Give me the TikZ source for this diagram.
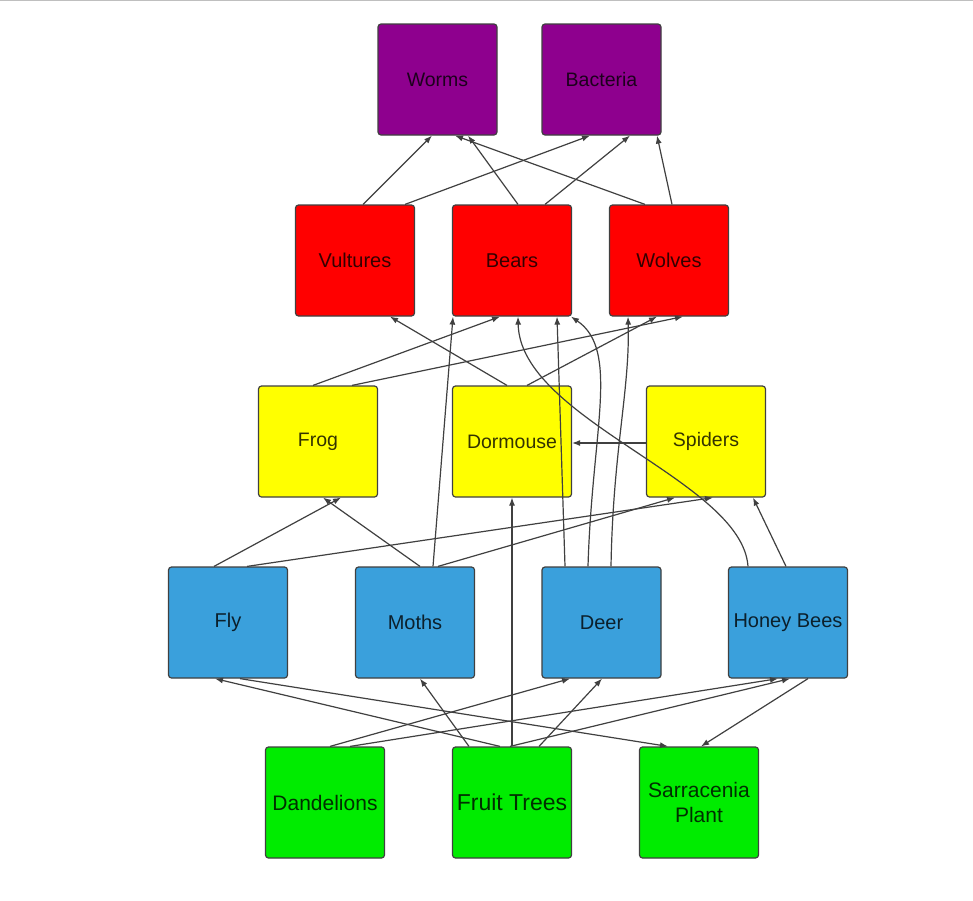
\documentclass[tikz,border=0pt]{standalone}
\usepackage{fontspec}
\setmainfont{Liberation Sans}
\usetikzlibrary{arrows.meta}

\definecolor{decompcol}{RGB}{142,0,142}
\definecolor{topcol}{RGB}{255,0,0}
\definecolor{midcol}{RGB}{255,255,0}
\definecolor{herbcol}{RGB}{58,160,220}
\definecolor{plantcol}{RGB}{0,236,0}

\begin{document}
\begin{tikzpicture}[x=1pt, y=-1pt,
		box/.style={draw=black!75, line width=1.2pt, rounded corners=3pt, minimum width=119pt, minimum height=111pt, inner sep=1pt, align=center, text=black, text opacity=0.8, font=\fontsize{19.5}{23}\selectfont},
		feeds/.style={-{Latex[length=8pt,width=6pt]}, line width=1.2pt, black!75}]
				
				% Draw the page and its top rule.
				\useasboundingbox (0,0) rectangle (973,900);
				\fill[white] (0,0) rectangle (973,900);
				\draw[black!25, line width=2pt] (0,0) -- (973,0);
				
				% Draw the decomposers.
				\foreach \n/\x/\txt in {worms/437.5/Worms, bact/601.5/Bacteria}{
					\node[box, fill=decompcol] (\n) at (\x,79.5) {\txt};
				}
				
				% Draw the top predators.
				\foreach \n/\x/\txt in {vult/355/Vultures, bears/512/Bears, wolves/669/Wolves}{
					\node[box, fill=topcol, font=\fontsize{20}{23}\selectfont] (\n) at (\x,260.5) {\txt};
				}
				
				% Draw the small predators.
				\foreach \n/\x/\txt in {frog/318/Frog, dorm/512/Dormouse, spid/706/Spiders}{
					\node[box, fill=midcol] (\n) at (\x,441.5) {\txt};
				}
				
				% Draw the plant eaters.
				\foreach \n/\x/\txt in {fly/228/Fly, moths/415/Moths, deer/601.5/Deer, bees/788/Honey Bees}{
					\node[box, fill=herbcol, font=\fontsize{20}{23}\selectfont] (\n) at (\x,622.5) {\txt};
				}
				
				% Draw the plants.
				\node[box, fill=plantcol, font=\fontsize{21}{25}\selectfont] (dand) at (325,802.5) {Dandelions};
				\node[box, fill=plantcol, font=\fontsize{23}{26}\selectfont] (fruit) at (512,802.5) {Fruit Trees};
				\node[box, fill=plantcol, font=\fontsize{21}{25}\selectfont] (sarr) at (699,802.5) {Sarracenia\\Plant};
				
				% Draw the links into the decomposers.
				\foreach \s/\a/\t/\b in {vult/8/worms/-5.5, vult/50/bact/-11.5, bears/6/worms/30.5, bears/33/bact/28.5, wolves/-24/worms/17.5, wolves/3/bact/55.5}{
					\draw[feeds] ([xshift=\a]\s.north) -- ([xshift=\b]\t.south);
				}
				
				% Draw the links into the top predators.
				\foreach \s/\a/\t/\b in {dorm/-5/vult/35, frog/-5/bears/-12, frog/34/wolves/14, dorm/15/wolves/-12, moths/18/bears/-59, deer/-36.5/bears/45}{
					\draw[feeds] ([xshift=\a]\s.north) -- ([xshift=\b]\t.south);
				}
				\draw[feeds] ([xshift=-13.5]deer.north) .. controls (592,430) and (620,350) .. ([xshift=59]bears.south);
				\draw[feeds] ([xshift=9.5]deer.north) .. controls (613,450) and (630,390) .. ([xshift=-41]wolves.south);
				\draw[feeds] ([xshift=-40]bees.north) .. controls (742,480) and (520,420) .. ([xshift=6]bears.south);
				
				% Draw the links into the small predators.
				\foreach \s/\a/\t/\b in {fly/-14/frog/23, moths/5/frog/5, fly/19/spid/7, moths/23/spid/-31, fruit/0/dorm/0, bees/-2/spid/47}{
					\draw[feeds] ([xshift=\a]\s.north) -- ([xshift=\b]\t.south);
				}
				\draw[feeds] ([yshift=-1.5]spid.west) -- ([yshift=-1.5]dorm.east);
				
				% Draw the links into the plant eaters.
				\foreach \s/\a/\t/\b in {fruit/-12/fly/-13, fruit/-43/moths/5, dand/5/deer/-31.5, fruit/27/deer/0.5, dand/25/bees/-10, fruit/-2/bees/2}{
					\draw[feeds] ([xshift=\a]\s.north) -- ([xshift=\b]\t.south);
				}
				
				% Draw the links into the pitcher plant.
				\foreach \s/\a/\t/\b in {fly/12/sarr/-31, bees/20/sarr/2}{
					\draw[feeds] ([xshift=\a]\s.south) -- ([xshift=\b]\t.north);
				}
				
			\end{tikzpicture}
\end{document}
